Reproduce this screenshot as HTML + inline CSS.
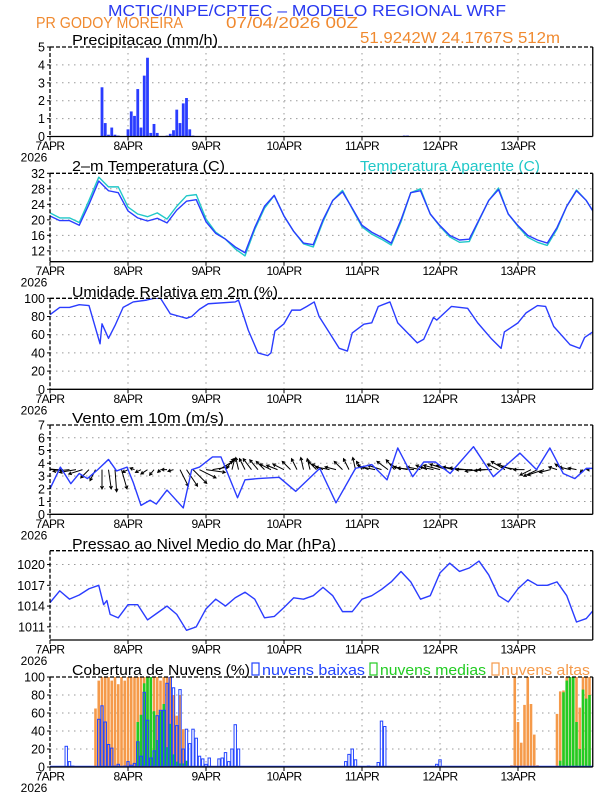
<!DOCTYPE html>
<html><head><meta charset="utf-8">
<style>
html,body{margin:0;padding:0;background:#fff;}
svg{display:block;font-family:"Liberation Sans",Arial,sans-serif;}
</style></head>
<body>
<svg id="chart" width="612" height="792" viewBox="0 0 612 792">
<text x="108" y="16" font-size="16" fill="#2838f0" textLength="398" lengthAdjust="spacingAndGlyphs">MCTIC/INPE/CPTEC – MODELO REGIONAL WRF</text>
<text x="36" y="28" font-size="16" fill="#f08a30" textLength="147" lengthAdjust="spacingAndGlyphs">PR GODOY MOREIRA</text>
<text x="226" y="28" font-size="16" fill="#f08a30" textLength="132" lengthAdjust="spacingAndGlyphs">07/04/2026 00Z</text>
<text x="360" y="43" font-size="16" fill="#f08a30" textLength="200" lengthAdjust="spacingAndGlyphs">51.9242W 24.1767S 512m</text>
<text x="72" y="45" font-size="15" fill="#000" textLength="146" lengthAdjust="spacingAndGlyphs">Precipitacao (mm/h)</text>
<text x="72" y="171" font-size="15" fill="#000" textLength="153" lengthAdjust="spacingAndGlyphs">2–m Temperatura (C)</text>
<text x="360" y="171" font-size="15" fill="#20c8c8" textLength="180" lengthAdjust="spacingAndGlyphs">Temperatura Aparente (C)</text>
<text x="72" y="297" font-size="15" fill="#000" textLength="206" lengthAdjust="spacingAndGlyphs">Umidade Relativa em 2m (%)</text>
<text x="72" y="423" font-size="15" fill="#000" textLength="152" lengthAdjust="spacingAndGlyphs">Vento em 10m (m/s)</text>
<text x="72" y="549" font-size="15" fill="#000" textLength="264" lengthAdjust="spacingAndGlyphs">Pressao ao Nivel Medio do Mar (hPa)</text>
<text x="72" y="675" font-size="15" fill="#000" textLength="178" lengthAdjust="spacingAndGlyphs">Cobertura de Nuvens (%)</text>
<rect x="252" y="663" width="7" height="12" fill="none" stroke="#2244ff" stroke-width="1.2"/>
<text x="262" y="675" font-size="15" fill="#2244ff" textLength="103" lengthAdjust="spacingAndGlyphs">nuvens baixas</text>
<rect x="370" y="663" width="7" height="12" fill="none" stroke="#22cc22" stroke-width="1.2"/>
<text x="380" y="675" font-size="15" fill="#22cc22" textLength="106" lengthAdjust="spacingAndGlyphs">nuvens medias</text>
<rect x="492" y="663" width="7" height="12" fill="none" stroke="#f59a4a" stroke-width="1.2"/>
<text x="501" y="675" font-size="15" fill="#f59a4a" textLength="89" lengthAdjust="spacingAndGlyphs">nuvens altas</text>
</svg>
<script>
// ---------- DATA ----------
const dayLabels = ["7APR","8APR","9APR","10APR","11APR","12APR","13APR"];
const precipHours = [16,17,18,19,20,21,24,25,26,27,28,29,30,31,32,33,36,37,38,39,40,41,42,43,44,109,110];
const precipValues = [2.75,0.75,0.1,0.5,0.1,0.05,0.4,1.4,1.15,2.65,0.5,3.4,4.4,0.2,0.7,0.2,0.05,0.15,0.35,1.5,0.75,1.85,2.15,0.4,0.05,0.05,0.05];
const tempHours = [0,3,6,9,12,15,18,21,24,27,30,33,36,39,42,45,48,51,54,57,60,63,66,69,72,75,78,81,84,87,90,93,96,99,102,105,108,111,114,117,120,123,126,129,132,135,138,141,144,147,150,153,156,159,162,165,168];
const tempValues = [21,19.8,19.8,18.6,24,30,27.5,27,22.3,20.5,19.7,20.4,19.2,22.5,24.8,25.2,19.5,16.5,15,13,11.5,18,23.5,26.3,21,17,14,13.6,20,25,27.2,23,18.6,16.8,15.5,14,20,27,27.5,21.5,18.5,16,14.8,15,20,25,27.8,21.5,18.5,16,14.8,14,18,23.5,27.5,25,21];
const apparentValues = [21.8,20.5,20.5,19.3,25,31,28.5,28.5,23.3,21.5,20.8,21.8,20.2,23.5,26.2,26.5,20.2,16.8,15,12.5,10.7,17.5,23,26.3,21,17,13.8,13,19.5,25,27.6,22.8,18.2,16.3,15,13.5,19.5,27,28,21.5,18.3,15.6,14.2,14.4,19.8,25,28.2,21.5,18.3,15.5,14.2,13.4,17.6,23.5,27.7,25,21];
const humHours = [0,3,6,9,12,15.4,16,18,20,22.5,25.6,29.7,32,34,37,40,42,43.6,46,48.7,57,58,61,64,67,68,69.2,72,74.4,77,79,81.3,82.8,86,89,91.5,93,96.6,99,101,104.6,107,113,115,118,119,123.5,128.5,131.6,135.7,138.8,139.8,144,146.5,150,152.5,155,160,163,164.5,167];
const humValues = [82,90,90,93,92,50,72,56,70,90,96,98,100,100,83,80,78,80,88,94,96,98,65,40,37,40,64,72,87,87,91,96,80,62,45,42,62,71.5,73,91,96,73,51,55,79,76,91,89,73,56,45,63,73,84,92,91,69,49,45,57,63];
const windHours = [0,3.2,6.4,9,11.5,14.7,18,20.5,23.7,25.6,28,30.8,32.7,36,41,43.6,46,50,52.6,57.7,60,64,70.5,75.6,83,88,94,99,103.7,107,111.6,115,118.6,123.1,130.3,136.4,144.6,149.7,153.8,157.9,161.5,165,167];
const windValues = [2.0,3.7,2.4,3.2,2.8,3.5,4.3,3.4,3.7,2.5,0.7,1.1,0.8,1.9,0.5,3.5,3.7,4.5,4.5,1.3,2.7,2.8,2.9,1.8,3.6,0.9,3.6,3.9,2.7,5.2,2.95,4.1,4.1,3.2,5.3,2.95,4.8,3.5,5.2,3.2,2.8,3.6,3.6];
const arrowU = [-2,-3,-3,-3,-3,-2.5,-1.5,-1,0,0.5,0.3,1,-1,-0.8,-1,-1.2,-0.8,-0.5,-1,-1,1.5,2,2.5,3,3.5,3,2.5,1.5,0.5,-0.5,-1,-1.5,-1.5,-1.5,-2,-2,-2,-1.5,-1,-0.5,-0.5,-1.5,-2,-2.5,-2,-1.5,-1,-0.5,-1,-2,-2.5,-2.5,-2,-1.5,-2,-2.5,-3,-2.5,-2,-2.5,-3,-3,-3,-3,-3,-3,-2.5,-2,-2.5,-2,-2.5,-2.5,-3,-2,-2,-2.5,-3,-2,-1.5,-1.5,-2,-1.5,-0.5,-0.5];
const arrowV = [1,0.3,0,-0.3,-0.5,-0.8,-1.5,-2,-3.5,-3.5,-4,-3.5,-0.5,0.3,-0.5,-0.8,-1,-0.5,0,-0.3,-3,-3,-2.5,-1.5,-0.5,0.5,1.5,2,2,2.2,2,2,1.8,1.5,1,0.8,1,1.5,2,2.2,2,1.5,1,0.5,0.5,1.5,2,2.2,1.5,0.8,0.5,0.8,1.5,1.8,1,0.5,0.3,0.5,0.8,0.5,0.8,1,0.8,0.5,0.3,0,-0.3,-0.2,0,1,1.5,1,0.5,0,-1,-1.2,-1,-0.5,0.5,1,0.5,0.3,-0.5,0];
const presHours = [0,3,6,9,12,15,16.5,17.5,18.5,21,24,27,30,33,36,39,42,45,48,51,54,57,60,63,66,69,72,75,78,81,84,87,90,93,96,99,102,105,108,111,114,117,120,123,126,129,132,135,138,141,144,147,150,153,156,159,162,165,167];
const presValues = [1014.5,1016.2,1015,1015.6,1016.5,1017,1014.2,1014.8,1012.8,1012.3,1014.2,1014.2,1012,1013,1014,1012.8,1010.5,1011,1013.6,1015,1014,1015.2,1016,1015,1012.3,1012.5,1013.8,1015.2,1015,1015.5,1016.7,1015.5,1013.2,1013.2,1015,1015.5,1016.4,1017.5,1019,1017.5,1015,1015.5,1018.8,1020.2,1019,1019.5,1020.5,1018.5,1015.5,1014.6,1016.5,1017.8,1017,1017,1017.5,1015.5,1011.7,1012.2,1013.3];
const lowHours = [5,6,7,15,16,17,18,19,20,21,23,24,25,26,27,28,29,30,31,32,33,34,35,36,37,38,39,40,41,42,43,44,45,46,47,48,49,51,52,53,54,55,56,57,58,91,92,93,94,98,101,102,103,119,120];
const lowValues = [23,6,1,53,68,50,25,21,1,3,1,6,2,4,28,12,83,52,10,18,57,63,63,93,100,88,46,86,20,42,26,42,32,12,9,3,10,0,9,10,16,6,20,47,20,6,14,20,8,1,5,51,45,3,8];
const midHours = [27,28,29,30,31,32,33,34,35,36,37,38,39,40,41,42,157,158,159,160,161,162,163,164,165,166];
const midValues = [50,58,93,100,100,62,30,62,70,22,48,14,6,4,4,7,7,83,96,100,100,50,20,86,76,80];
const highHours = [14,15,16,17,18,19,20,21,22,23,24,25,26,27,28,29,30,31,32,33,34,35,36,37,38,39,40,41,142,143,144,145,146,147,148,149,150,156,157,158,159,160,161,162,163,164,165,166];
const highValues = [65,96,100,100,100,96,100,92,100,96,100,100,100,100,100,100,100,100,100,100,96,100,100,100,80,57,80,42,2,100,50,27,69,100,70,36,2,59,84,85,100,100,100,100,66,100,100,100];

// ---------- LAYOUT ----------
const NS = "http://www.w3.org/2000/svg";
const svg = document.getElementById('chart');
const X0 = 50, PXH = 3.25, HMAX = 167;
const xs = h => X0 + h * PXH;
function el(tag, attrs, parent) {
  const e = document.createElementNS(NS, tag);
  for (const k in attrs) e.setAttribute(k, attrs[k]);
  (parent || svg).appendChild(e);
  return e;
}
const panels = [
  {key:'precip', top:47, bot:136.5, min:0, max:5, ticks:[0,1,2,3,4,5]},
  {key:'temp', top:173.3, bot:261.7, min:9.2, max:32, ticks:[12,16,20,24,28,32]},
  {key:'humidity', top:298.3, bot:389.3, min:0, max:100, ticks:[0,20,40,60,80,100]},
  {key:'wind', top:425, bot:514.3, min:0, max:7, ticks:[0,1,2,3,4,5,6,7]},
  {key:'pressure', top:550.7, bot:640, min:1009.1, max:1022, ticks:[1011,1014,1017,1020]},
  {key:'cloud', top:677, bot:767, min:0, max:100, ticks:[0,20,40,60,80,100]}
];
const P = {};
panels.forEach(p => {
  p.y = v => p.bot - (v - p.min) / (p.max - p.min) * (p.bot - p.top);
  P[p.key] = p;
  const g = el('g', {});
  
  
  p.g = g;
  const cp = el('clipPath', {id: 'clip-' + p.key}, g);
  el('rect', {x: X0, y: p.top, width: xs(HMAX) - X0, height: p.bot - p.top}, cp);
  p.ticks.forEach(t => {
    const yy = p.y(t);
    if (t !== p.min && Math.abs(yy - p.top) > 1) {
      const gl = el('line', {x1: X0, x2: xs(HMAX), y1: yy, y2: yy, stroke: '#9a9a9a', 'stroke-width': 1, 'stroke-dasharray': '1.5,4.5'}, g);
      
      
    }
    const tl = el('text', {x: 45, y: yy + 4.5, 'font-size': 12.5, 'text-anchor': 'end', fill: '#000'}, g);
    tl.textContent = t;
    
    
    el('line', {x1: X0 - 3, x2: X0, y1: yy, y2: yy, stroke: '#000', 'stroke-width': 1}, g);
  });
  dayLabels.forEach((d, i) => {
    const xx = xs(i * 24);
    if (i > 0) {
      const gl = el('line', {x1: xx, x2: xx, y1: p.top, y2: p.bot, stroke: '#9a9a9a', 'stroke-width': 1, 'stroke-dasharray': '1.5,4.5'}, g);
      
      
    }
    el('line', {x1: xx, x2: xx, y1: p.bot, y2: p.bot + 4, stroke: '#000', 'stroke-width': 1}, g);
    const xl = el('text', {x: xx, y: p.bot + 13.5, 'font-size': 12, 'text-anchor': 'middle', fill: '#000', 'letter-spacing': '-0.6'}, g);
    xl.textContent = d;
    
    
  });
  const yl = el('text', {x: 34, y: p.bot + 25, 'font-size': 12, 'text-anchor': 'middle', fill: '#000'}, g);
  yl.textContent = '2026';
  
  
  p.plot = el('g', {'clip-path': 'url(#clip-' + p.key + ')'}, g);
  
  
});

function line(p, hours, vals, color, name, w) {
  const pts = hours.map((h, i) => xs(h).toFixed(2) + ',' + p.y(vals[i]).toFixed(2)).join(' ');
  const l = el('polyline', {points: pts, fill: 'none', stroke: color, 'stroke-width': w || 1.4, 'stroke-linejoin': 'round'}, p.plot);
  
  
}
function bars(p, hours, vals, opts, name) {
  hours.forEach((h, i) => {
    const y = p.y(vals[i]);
    const r = el('rect', {x: xs(h) - opts.w / 2, y: y, width: opts.w, height: Math.max(p.bot - y, 0.6), fill: opts.fill, stroke: opts.stroke || 'none', 'stroke-width': opts.sw || 0}, p.plot);
    
    
  });
}

bars(P.precip, precipHours, precipValues, {w: 2.8, fill: '#2a3cff'}, 'precip-bar');
line(P.temp, tempHours, apparentValues, '#20c8c8', 'apparent-temp-line', 1.4);
line(P.temp, tempHours, tempValues, '#2a3cff', 'temp-line', 1.4);
line(P.humidity, humHours, humValues, '#2a3cff', 'humidity-line', 1.4);
(function(){
  const p = P.wind, base = p.y(3.5), S = 5.5;
  arrowU.forEach((u, i) => {
    const v = arrowV[i];
    const x0 = xs(i * 2), y0 = base;
    const x1 = x0 + u * S, y1 = y0 - v * S;
    const ang = Math.atan2(y1 - y0, x1 - x0);
    const hl = 3.2;
    const d = 'M' + x0 + ',' + y0 + 'L' + x1 + ',' + y1 +
      'M' + (x1 - hl * Math.cos(ang - 0.5)) + ',' + (y1 - hl * Math.sin(ang - 0.5)) + 'L' + x1 + ',' + y1 +
      'L' + (x1 - hl * Math.cos(ang + 0.5)) + ',' + (y1 - hl * Math.sin(ang + 0.5));
    const a = el('path', {d: d, stroke: '#000', 'stroke-width': 1, fill: 'none'}, p.plot);
    
    
  });
})();
line(P.wind, windHours, windValues, '#2a3cff', 'wind-speed-line', 1.4);
line(P.pressure, presHours, presValues, '#2a3cff', 'pressure-line', 1.4);
bars(P.cloud, highHours, highValues, {w: 2.6, fill: '#f59a4a'}, 'cloud-high-bar');
bars(P.cloud, midHours, midValues, {w: 2.6, fill: '#22cc22'}, 'cloud-mid-bar');
bars(P.cloud, lowHours, lowValues, {w: 2.4, fill: 'none', stroke: '#2244ff', sw: 1}, 'cloud-low-bar');
(function(){
  const p = P.cloud;
  const b = el('line', {x1: X0, x2: xs(HMAX), y1: p.bot - 0.5, y2: p.bot - 0.5, stroke: '#2244ff', 'stroke-width': 1.5}, p.plot);
  
  
})();

panels.forEach(p => {
  const x1 = xs(HMAX);
  const f = el('g', {}, p.g);
  
  
  el('line', {x1: X0, x2: x1, y1: p.top, y2: p.top, stroke: '#000', 'stroke-width': 1.3, 'stroke-dasharray': '4,2'}, f);
  el('line', {x1: X0, x2: X0, y1: p.top, y2: p.bot, stroke: '#000', 'stroke-width': 1.3, 'stroke-dasharray': '4,2'}, f);
  el('line', {x1: x1, x2: x1, y1: p.top, y2: p.bot, stroke: '#000', 'stroke-width': 1.3}, f);
  el('line', {x1: X0, x2: x1, y1: p.bot, y2: p.bot, stroke: '#000', 'stroke-width': 1.3}, f);
});
</script>
</body></html>
